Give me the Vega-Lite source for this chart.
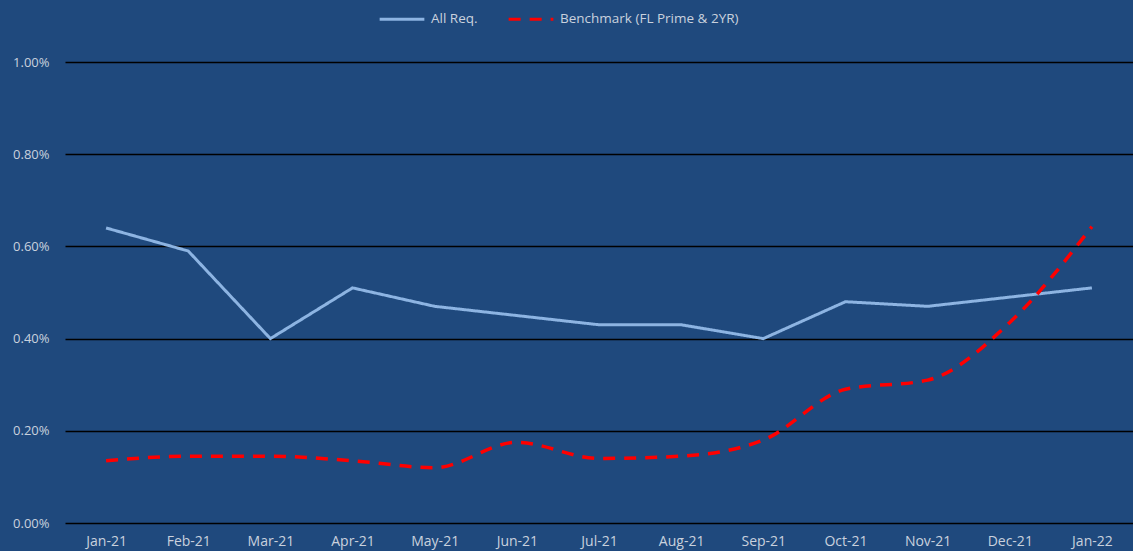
{
  "$schema": "https://vega.github.io/schema/vega-lite/v6.json",
  "autosize": {"type": "none"},
  "padding": {"left": 65, "top": 62, "right": 0, "bottom": 28},
  "width": 1068,
  "height": 461,
  "background": "#1F497D",
  "config": {
    "view": {"stroke": null},
    "font": "Open Sans",
    "axis": {"labelColor": "#C9D1DD", "labelFont": "Open Sans", "labelFontSize": 13},
    "legend": {"labelColor": "#C9D1DD", "labelFont": "Open Sans", "labelFontSize": 13.5, "labelLimit": 0}
  },
  "data": {
    "values": [
      {"month": "Jan-21", "series": "All Req.", "value": 0.0064},
      {"month": "Feb-21", "series": "All Req.", "value": 0.0059},
      {"month": "Mar-21", "series": "All Req.", "value": 0.0040},
      {"month": "Apr-21", "series": "All Req.", "value": 0.0051},
      {"month": "May-21", "series": "All Req.", "value": 0.0047},
      {"month": "Jun-21", "series": "All Req.", "value": 0.0045},
      {"month": "Jul-21", "series": "All Req.", "value": 0.0043},
      {"month": "Aug-21", "series": "All Req.", "value": 0.0043},
      {"month": "Sep-21", "series": "All Req.", "value": 0.0040},
      {"month": "Oct-21", "series": "All Req.", "value": 0.0048},
      {"month": "Nov-21", "series": "All Req.", "value": 0.0047},
      {"month": "Dec-21", "series": "All Req.", "value": 0.0049},
      {"month": "Jan-22", "series": "All Req.", "value": 0.0051},
      {"month": "Jan-21", "series": "Benchmark (FL Prime & 2YR)", "value": 0.00135},
      {"month": "Feb-21", "series": "Benchmark (FL Prime & 2YR)", "value": 0.00145},
      {"month": "Mar-21", "series": "Benchmark (FL Prime & 2YR)", "value": 0.00145},
      {"month": "Apr-21", "series": "Benchmark (FL Prime & 2YR)", "value": 0.00135},
      {"month": "May-21", "series": "Benchmark (FL Prime & 2YR)", "value": 0.0012},
      {"month": "Jun-21", "series": "Benchmark (FL Prime & 2YR)", "value": 0.00175},
      {"month": "Jul-21", "series": "Benchmark (FL Prime & 2YR)", "value": 0.0014},
      {"month": "Aug-21", "series": "Benchmark (FL Prime & 2YR)", "value": 0.00145},
      {"month": "Sep-21", "series": "Benchmark (FL Prime & 2YR)", "value": 0.0018},
      {"month": "Oct-21", "series": "Benchmark (FL Prime & 2YR)", "value": 0.0029},
      {"month": "Nov-21", "series": "Benchmark (FL Prime & 2YR)", "value": 0.0031},
      {"month": "Dec-21", "series": "Benchmark (FL Prime & 2YR)", "value": 0.00435},
      {"month": "Jan-22", "series": "Benchmark (FL Prime & 2YR)", "value": 0.00643}
    ]
  },
  "encoding": {
    "x": {
      "field": "month", "type": "ordinal",
      "sort": ["Jan-21","Feb-21","Mar-21","Apr-21","May-21","Jun-21","Jul-21","Aug-21","Sep-21","Oct-21","Nov-21","Dec-21","Jan-22"],
      "scale": {"type": "point", "padding": 0.5},
      "axis": {"title": null, "labelAngle": 0, "ticks": false, "domain": false, "labelPadding": 11, "grid": false, "labelFontSize": 14}
    },
    "y": {
      "field": "value", "type": "quantitative",
      "scale": {"domain": [0, 0.01], "nice": false},
      "axis": {"title": null, "format": ".2%", "values": [0, 0.002, 0.004, 0.006, 0.008, 0.01], "ticks": false, "domain": false, "labelPadding": 16, "grid": true, "gridColor": "#000000", "gridWidth": 1.3, "gridOpacity": 1}
    },
    "color": {
      "field": "series", "type": "nominal",
      "scale": {"domain": ["All Req.", "Benchmark (FL Prime & 2YR)"], "range": ["#8DB4E2", "#FF0000"]},
      "legend": {"title": null, "orient": "none", "legendX": 313, "legendY": -67, "direction": "horizontal", "symbolType": "stroke", "symbolSize": 2000, "symbolStrokeWidth": 3, "columnPadding": 24, "labelOffset": 5}
    },
    "strokeDash": {
      "field": "series", "type": "nominal",
      "scale": {"domain": ["All Req.", "Benchmark (FL Prime & 2YR)"], "range": [[1, 0], [12, 9]]},
      "legend": {"title": null, "orient": "none", "legendX": 313, "legendY": -67, "direction": "horizontal", "symbolType": "stroke", "symbolSize": 2000, "symbolStrokeWidth": 3, "columnPadding": 24, "labelOffset": 5}
    }
  },
  "layer": [
    {
      "transform": [{"filter": "datum.series === 'All Req.'"}],
      "mark": {"type": "line", "strokeWidth": 3, "interpolate": "linear"}
    },
    {
      "transform": [{"filter": "datum.series !== 'All Req.'"}],
      "mark": {"type": "line", "strokeWidth": 3.5, "interpolate": "monotone"}
    }
  ]
}
